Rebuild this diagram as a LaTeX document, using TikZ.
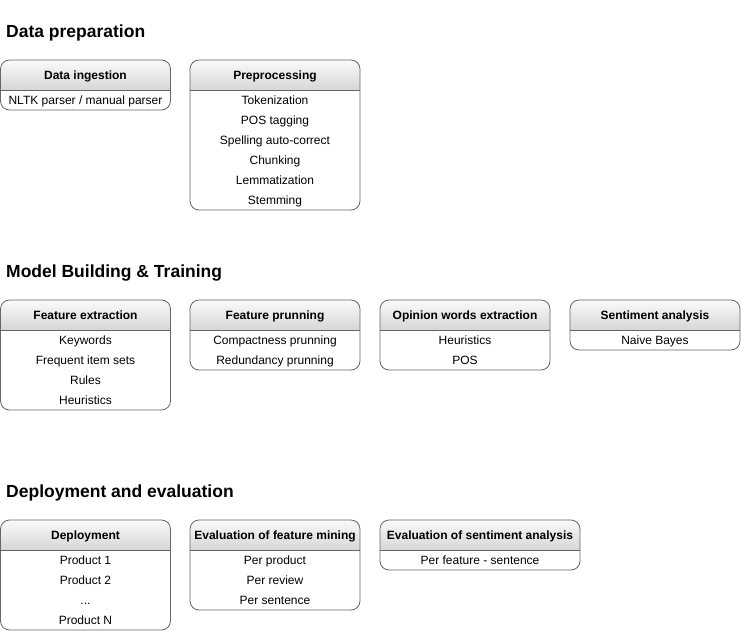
\documentclass[tikz,border=0pt]{standalone}
\usepackage{fontspec}
\setmainfont{Liberation Sans}
\tikzset{
 boxline/.style={draw=black!60, line width=0.8pt},
 hdrshade/.style={top color=gray!4, bottom color=gray!32},
 hdrtext/.style={font=\bfseries\fontsize{12}{14}\selectfont, anchor=base, inner sep=0},
 rowtext/.style={font=\fontsize{12}{14}\selectfont, anchor=base, inner sep=0},
 sectitle/.style={font=\bfseries\fontsize{17.5}{20}\selectfont, anchor=base west, inner sep=0},
}
\newcommand\dotrow{...}
% name x y w n title rows
\newcommand\umlbox[7]{%
 \shade[hdrshade] (#2,#3+30) {[rounded corners=9] -- (#2,#3) -- (#2+#4,#3)} -- (#2+#4,#3+30) -- cycle;
 \draw[boxline] (#2,#3+30) -- (#2+#4,#3+30);
 \draw[boxline, rounded corners=9] (#2,#3) rectangle (#2+#4,#3+30+20*#5);
 \node[hdrtext] (#1-h) at (#2+#4/2,#3+19.3) {#6};
 \foreach \r [count=\i] in {#7} { \node[rowtext] (#1-\i) at (#2+#4/2,#3+20*\i+24.3) {\r}; }
}
\begin{document}
\begin{tikzpicture}[x=1pt,y=-1pt]
\useasboundingbox (0,0) rectangle (741,631);
\node[sectitle] (t1) at (6,37.5) {Data preparation};
\node[sectitle] (t2) at (6,277.5) {Model Building \& Training};
\node[sectitle] (t3) at (6,497.5) {Deployment and evaluation};

\umlbox{ing}{0.5}{60}{170}{1}{Data ingestion}{NLTK parser / manual parser}
\umlbox{pre}{190}{60}{170}{6}{Preprocessing}{Tokenization,POS tagging,Spelling auto-correct,Chunking,Lemmatization,Stemming}

\umlbox{fe}{0.5}{300}{170}{4}{Feature extraction}{Keywords,Frequent item sets,Rules,Heuristics}
\umlbox{fp}{190}{300}{170}{2}{Feature prunning}{Compactness prunning,Redundancy prunning}
\umlbox{ow}{380}{300}{170}{2}{Opinion words extraction}{Heuristics,POS}
\umlbox{sa}{570}{300}{170}{1}{Sentiment analysis}{Naive Bayes}

\umlbox{dep}{0.5}{520}{170}{4}{Deployment}{Product 1,Product 2,\dotrow,Product N}
\umlbox{efm}{190}{520}{170}{3}{Evaluation of feature mining}{Per product,Per review,Per sentence}
\umlbox{esa}{380}{520}{200}{1}{Evaluation of sentiment analysis}{Per feature - sentence}
\end{tikzpicture}
\end{document}
